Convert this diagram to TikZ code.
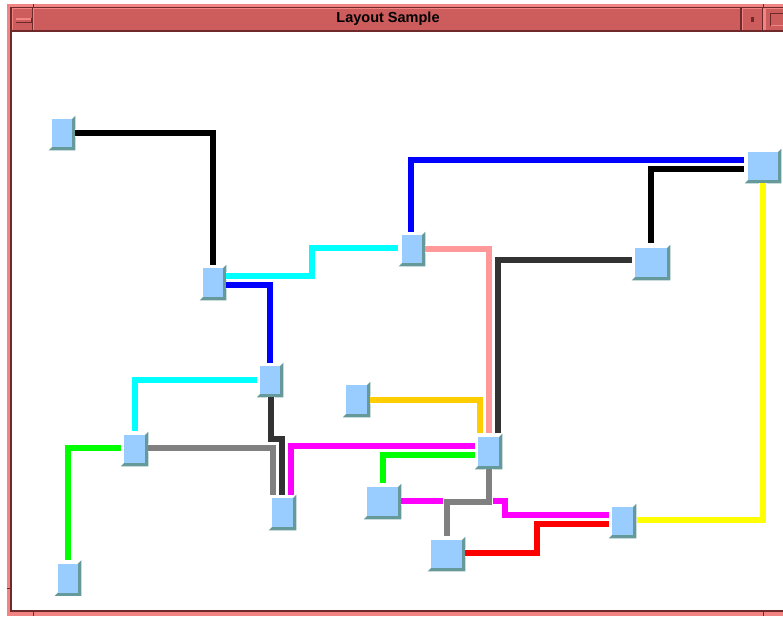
\documentclass[tikz,border=0pt]{standalone}
\usepackage{fontspec}
\setmainfont{Liberation Sans}
\usetikzlibrary{calc,backgrounds}
\definecolor{face}{HTML}{99CCFF}
\definecolor{nshadow}{HTML}{669999}
\definecolor{frm}{HTML}{CD5C5C}
\definecolor{frml}{HTML}{F28484}
\definecolor{frmd}{HTML}{6E2A2A}
\definecolor{pinkc}{HTML}{FF9999}
\definecolor{dgray}{HTML}{333333}
\definecolor{mgray}{HTML}{808080}
\definecolor{orng}{HTML}{FFCC00}
\definecolor{cyanc}{HTML}{00FFFF}
\definecolor{magc}{HTML}{FF00FF}
\definecolor{greenc}{HTML}{00FF00}
\definecolor{bluec}{HTML}{0000FF}
\definecolor{yellowc}{HTML}{FFFF00}
\definecolor{redc}{HTML}{FF0000}
\begin{document}
\begin{tikzpicture}[x=1pt,y=-1pt,
  blk/.style 2 args={fill=face, draw=none, inner sep=0pt, outer sep=0pt,
    minimum width=#1pt, minimum height=#2pt},
  wire/.style={line width=6pt, preaction={draw=white, line width=8pt}},
]
\useasboundingbox (0,0) rectangle (783,616);
\clip (0,0) rectangle (783,616);
\begin{scope}[on background layer]
  \fill[white] (0,0) rectangle (783,616);
\end{scope}

% ---------- window frame ----------
\fill[frml] (7,4) rectangle (783,6.5);
\fill[frml] (7,4) rectangle (10,616);
\fill[frml] (7,611.7) rectangle (783,616);
\fill[frmd] (10,6.5) rectangle (783,8);
\fill[frmd] (10,6.5) rectangle (12,611.7);
\fill[frmd] (10,609.8) rectangle (783,611.7);
% title bar
\fill[frm] (12,8) rectangle (783,30);
\fill[frmd] (12,29.5) rectangle (783,32);
% menu button
\fill[frml] (12,8) rectangle (33,9.4);
\fill[frml] (12,8) rectangle (13.4,29.5);
\fill[frmd] (31.6,8) rectangle (33,29.5);
\fill[frml] (33,8) rectangle (34.3,29.5);
\fill[frml] (16,18.3) rectangle (31.7,19.5);
\fill[frmd] (16,22) rectangle (31.7,23.3);
\fill[frmd] (30.5,18.3) rectangle (31.7,23.3);
% title area bevel
\fill[frml] (34.3,8) rectangle (740,9.4);
\fill[frmd] (739.5,8) rectangle (741.5,29.5);
% button with dot
\fill[frml] (741.5,8) rectangle (763.3,9.4);
\fill[frml] (741.5,8) rectangle (742.8,29.5);
\fill[frmd] (761.8,8) rectangle (763.3,29.5);
\fill[frmd] (751,17.3) rectangle (754.3,22.3);
% last button
\fill[frml] (763.3,8) rectangle (765.7,29.5);
\fill[frml] (765.7,8) rectangle (783,9.4);
\draw[frmd, line width=1.2pt] (770.6,26) -- (770.6,13.3) -- (783,13.3);
\draw[frml, line width=1pt] (771.2,25.5) -- (783,25.5);
% notches
\fill[frmd] (32.5,4) rectangle (33.8,6.5);
\fill[frmd] (763,4) rectangle (764.3,6.5);
\fill[frmd] (32.5,611.7) rectangle (33.8,616);
\fill[frmd] (763,611.7) rectangle (764.3,616);
\fill[frmd] (7,587.5) rectangle (10,588.8);

\node[font=\bfseries\fontsize{14.5}{15}\selectfont, text=black, inner sep=0pt] (title) at (388,19) {Layout Sample};

% ---------- nodes ----------
\node[blk={20}{28}] (n1) at (62,133) {};
\node[blk={20}{29}] (n2) at (213,282.5) {};
\node[blk={20}{28}] (n7) at (270,380) {};
\node[blk={20}{28}] (n4) at (412,249) {};
\node[blk={32}{29}] (n5) at (651,262.5) {};
\node[blk={30}{28}] (n6) at (763,166) {};
\node[blk={21}{28}] (n8) at (134.5,449) {};
\node[blk={21}{29}] (n9) at (282.5,512.5) {};
\node[blk={20}{29}] (n10) at (68,578) {};
\node[blk={21}{29}] (n11) at (356.5,399.5) {};
\node[blk={21}{29}] (n12) at (488.5,451.5) {};
\node[blk={31}{29}] (n13) at (382.5,501.5) {};
\node[blk={31}{28}] (n14) at (446.5,554) {};
\node[blk={21}{28}] (n15) at (622.5,521) {};

\begin{scope}[on background layer]
\foreach \n in {n1,n2,n4,n5,n6,n7,n8,n9,n10,n11,n12,n13,n14,n15}{
  \fill[nshadow] (\n.north east) -- ++(3.3,-3.3) -- ($(\n.south east)+(3.3,3.3)$)
     -- ($(\n.south west)+(-3.3,3.3)$) -- (\n.south west) -- cycle;
}
\end{scope}

% ---------- connectors ----------
\draw[wire, black] ($(n1.east)+(3.3,-0.5)$) -| ($(n2.north)+(-0.5,-3.5)$);
\draw[wire, cyanc] ($(n2.east)+(3.3,-6.5)$) -- ++(86,0) |- ($(n4.west)+(-4,-1)$);
\draw[wire, bluec] ($(n2.east)+(3.3,2.5)$) -| ($(n7.north)+(0,-3.5)$);
\draw[wire, bluec] ($(n4.north)+(-1,-3.5)$) |- ($(n6.west)+(-4,-6)$);
\draw[wire, black] ($(n6.west)+(-4,3)$) -| ($(n5.north)+(0,-5)$);
\draw[wire, pinkc] ($(n4.east)+(3.3,-0.5)$) -| ($(n12.north)+(0,-4)$);
\draw[wire, dgray] ($(n5.west)+(-3,-2.5)$) -| ($(n12.north)+(9,-4)$);
\draw[wire, yellowc] ($(n6.south)+(0,3.3)$) |- ($(n15.east)+(4,-1)$);
\draw[wire, cyanc] ($(n7.west)+(-3,0)$) -| ($(n8.north)+(0,-4)$);
\draw[wire, greenc] ($(n8.west)+(-3,-1)$) -| ($(n10.north)+(0,-3.5)$);
\draw[wire, mgray] ($(n8.east)+(3.3,-1)$) -| ($(n9.north)+(-9.5,-3.5)$);
\draw[wire, dgray] ($(n7.south)+(0.5,3.3)$) -- ++(0,42) -| ($(n9.north)+(-0.5,-3.5)$);
\draw[wire, magc] ($(n12.west)+(-3,-5.5)$) -| ($(n9.north)+(8.5,-3.5)$);
\draw[wire, orng] ($(n11.east)+(3.3,0)$) -| ($(n12.north)+(-8.5,-4)$);
\draw[wire, greenc] ($(n12.west)+(-3,3)$) -| ($(n13.north)+(0,-4)$);
\draw[wire, magc] ($(n13.east)+(3.3,-1)$) -- ++(104,0) |- ($(n15.west)+(-3,-6.5)$);
\draw[wire, mgray] ($(n12.south)+(0,3.3)$) -- ++(0,33) -| ($(n14.north)+(0,-4)$);
\draw[wire, redc] ($(n14.east)+(3.3,-1)$) -- ++(72,0) |- ($(n15.west)+(-3,3)$);
\end{tikzpicture}
\end{document}
